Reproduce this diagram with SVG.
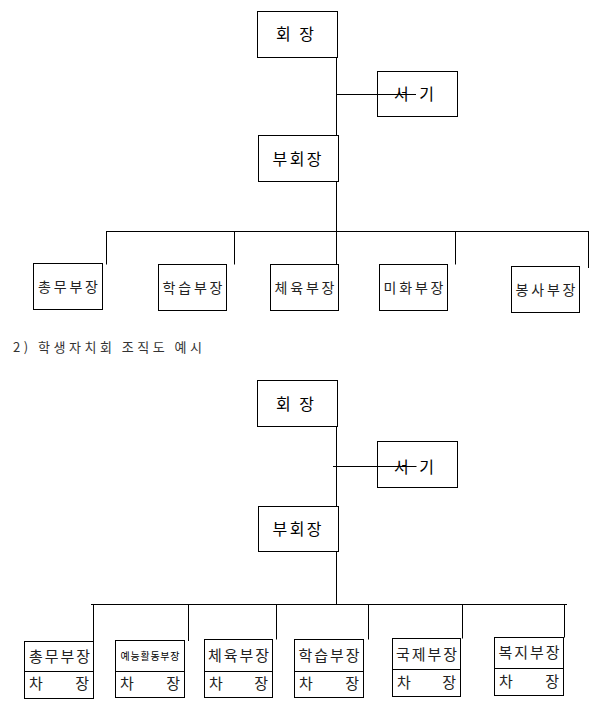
<svg xmlns="http://www.w3.org/2000/svg" width="598" height="717" viewBox="0 0 598 717">
<style>
.box{fill:#fff;stroke:#000;stroke-width:1}
.ln{fill:none;stroke:#000;stroke-width:1}
.t{font-family:"Noto Sans CJK KR","Noto Sans",sans-serif;fill:#000}
.h{font-size:16px;text-anchor:middle}
.d{font-size:14px;text-anchor:middle;fill:#222}
.b{font-size:15px;fill:#222}
.cap{font-size:13px;fill:#333}
</style>
<rect width="598" height="717" fill="#fff"/>

<g id="n-president1"><rect class="box" x="257.5" y="11.5" width="80" height="46"/><text class="t h" x="295" y="40" textLength="38">회 장</text></g>
<g id="n-secretary1"><rect class="box" x="377.5" y="71.5" width="80" height="45"/><text class="t h" x="414" y="100.3" textLength="40">서 기</text></g>
<g id="n-vice1"><rect class="box" x="258.5" y="135.5" width="80" height="46"/><text class="t h" x="297" y="165" textLength="49">부회장</text></g>

<g id="n-d1"><rect class="box" x="33.5" y="263.5" width="69" height="46"/><text class="t d" x="68" y="291.5" textLength="60">총무부장</text></g>
<g id="n-d2"><rect class="box" x="158.5" y="264.5" width="68" height="46"/><text class="t d" x="192.5" y="292.5" textLength="60">학습부장</text></g>
<g id="n-d3"><rect class="box" x="270.5" y="264.5" width="68" height="46"/><text class="t d" x="304.5" y="292.5" textLength="60">체육부장</text></g>
<g id="n-d4"><rect class="box" x="379.5" y="264.5" width="68" height="46"/><text class="t d" x="413.5" y="292.5" textLength="60">미화부장</text></g>
<g id="n-d5"><rect class="box" x="511.5" y="266.5" width="68" height="46"/><text class="t d" x="545.5" y="294.5" textLength="60">봉사부장</text></g>

<text id="caption" class="t cap" x="13" y="351.5" textLength="189" lengthAdjust="spacing">2) 학생자치회 조직도 예시</text>

<g id="n-president2"><rect class="box" x="257.5" y="380.5" width="80" height="46"/><text class="t h" x="295" y="410" textLength="38">회 장</text></g>
<g id="n-secretary2"><rect class="box" x="377.5" y="441.5" width="80" height="46"/><text class="t h" x="414" y="472.5" textLength="40">서 기</text></g>
<g id="n-vice2"><rect class="box" x="258.5" y="506.5" width="80" height="45"/><text class="t h" x="297" y="535" textLength="49">부회장</text></g>

<g id="n-e1"><rect class="box" x="24.5" y="641.5" width="69" height="57"/><path class="ln" d="M24.5 671.5H93.5"/>
  <text class="t b" x="59.5" y="662" text-anchor="middle" textLength="61">총무부장</text>
  <text class="t b" x="29" y="689">차</text><text class="t b" x="89" y="689" text-anchor="end">장</text></g>
<g id="n-e2"><rect class="box" x="115.5" y="640.5" width="69" height="57"/><path class="ln" d="M115.5 671.5H184.5"/>
  <text class="t" x="150" y="660" text-anchor="middle" font-size="10" fill="#333" textLength="59">예능활동부장</text>
  <text class="t b" x="120" y="689">차</text><text class="t b" x="180" y="689" text-anchor="end">장</text></g>
<g id="n-e3"><rect class="box" x="204.5" y="639.5" width="68" height="58"/><path class="ln" d="M204.5 671.5H272.5"/>
  <text class="t b" x="238.5" y="661" text-anchor="middle" textLength="61">체육부장</text>
  <text class="t b" x="209" y="689">차</text><text class="t b" x="268" y="689" text-anchor="end">장</text></g>
<g id="n-e4"><rect class="box" x="294.5" y="639.5" width="69" height="58"/><path class="ln" d="M294.5 671.5H363.5"/>
  <text class="t b" x="329" y="661" text-anchor="middle" textLength="61">학습부장</text>
  <text class="t b" x="299" y="689">차</text><text class="t b" x="359" y="689" text-anchor="end">장</text></g>
<g id="n-e5"><rect class="box" x="392.5" y="638.5" width="68" height="58"/><path class="ln" d="M392.5 669.5H460.5"/>
  <text class="t b" x="426.5" y="659.5" text-anchor="middle" textLength="61">국제부장</text>
  <text class="t b" x="397" y="687.5">차</text><text class="t b" x="456" y="687.5" text-anchor="end">장</text></g>
<g id="n-e6"><rect class="box" x="494.5" y="637.5" width="69" height="58"/><path class="ln" d="M494.5 668.5H563.5"/>
  <text class="t b" x="529" y="658" text-anchor="middle" textLength="61">복지부장</text>
  <text class="t b" x="499" y="686.5">차</text><text class="t b" x="559" y="686.5" text-anchor="end">장</text></g>

<g id="connectors">
  <!-- top chart -->
  <path class="ln" d="M336.5 57V135.5M336.5 181.5V264M336.5 94.5H416"/>
  <path class="ln" d="M106 231.5H588.5M106.5 231V264.5M234.5 231V264.5M455.5 231V264.5M588.5 231V268"/>
  <!-- bottom chart -->
  <path class="ln" d="M336.5 426V506.5M336.5 551.5V605M333 466.5H416.5"/>
  <path class="ln" d="M91 604.5H567M93.5 604V641M188.5 604V641M276.5 604V639.5M368.5 604V639.5M462.5 604V638.5M564.5 604V637.5"/>
</g>
</svg>
